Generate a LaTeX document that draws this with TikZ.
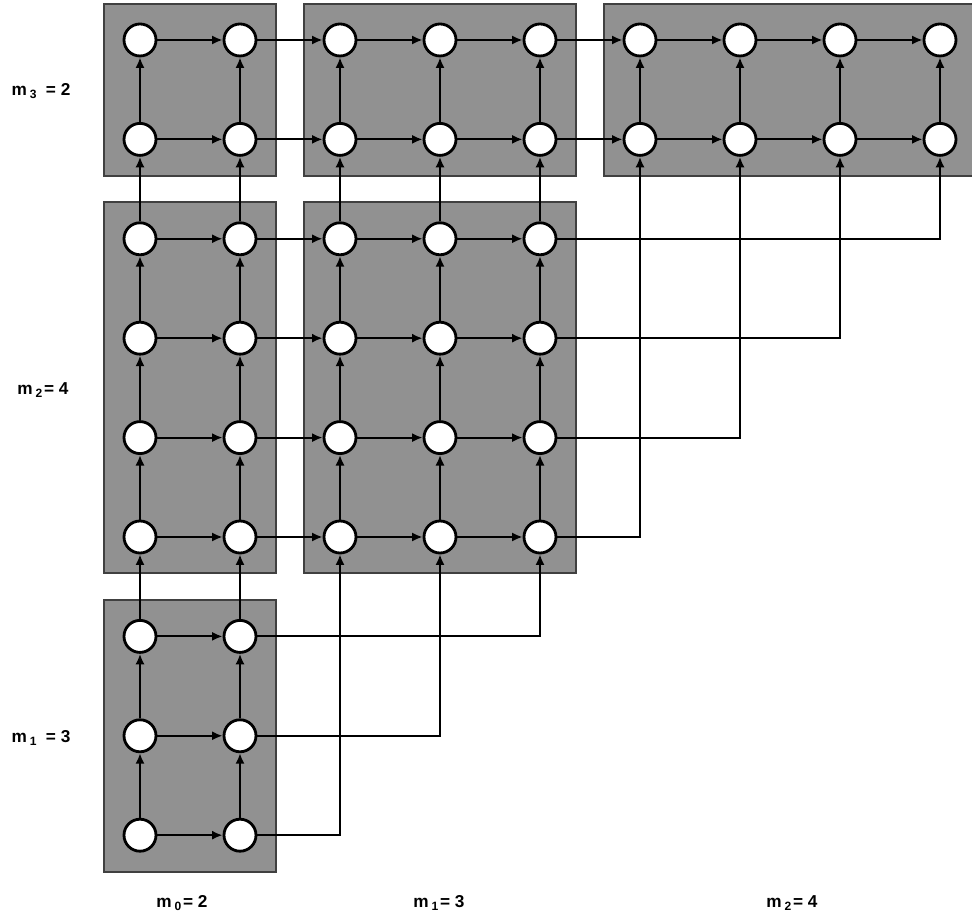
\documentclass[tikz,border=0pt]{standalone}
\usepackage{fontspec}
\setmainfont{Liberation Sans}
\usetikzlibrary{arrows.meta,fit,backgrounds}

\tikzset{
  knoten/.style={circle,draw,fill=white,line width=0.8pt,minimum size=3.2mm,inner sep=0pt},
  block/.style={fill=black!43,draw=black!75,line width=0.6pt,inner sep=1.9mm},
  pfeil/.style={line width=0.6pt,-{Latex[length=3pt,width=2.6pt]}},
  marke/.style={font=\fontsize{4.9}{5.5}\selectfont\bfseries}
}

\begin{document}
\begin{tikzpicture}[x=1cm,y=-1cm]
\useasboundingbox (0,0) rectangle (9.72,9.19);
% Knoten: oberste Zeilen (alle Spalten)
\foreach \r in {0,1} \foreach \c in {0,...,8}
  \node[knoten] (v-\c-\r) at (1.40+\c,0.40+0.994*\r) {};
% mittlere Zeilen
\foreach \r in {2,...,5} \foreach \c in {0,...,4}
  \node[knoten] (v-\c-\r) at (1.40+\c,0.40+0.994*\r) {};
% unterste Zeilen
\foreach \r in {6,7,8} \foreach \c in {0,1}
  \node[knoten] (v-\c-\r) at (1.40+\c,0.40+0.994*\r) {};

% graue Bloecke hinter den Knoten
\begin{scope}[on background layer]
  \node[block,fit=(v-0-0)(v-1-1)] (blk-a) {};
  \node[block,fit=(v-2-0)(v-4-1)] (blk-b) {};
  \node[block,fit=(v-5-0)(v-8-1)] (blk-c) {};
  \node[block,fit=(v-0-2)(v-1-5)] (blk-d) {};
  \node[block,fit=(v-2-2)(v-4-5)] (blk-e) {};
  \node[block,fit=(v-0-6)(v-1-8)] (blk-f) {};
\end{scope}

% waagerechte Pfeile
\foreach \r in {0,1} \foreach \c [count=\n from 1] in {0,...,7}
  \draw[pfeil] (v-\c-\r) -- (v-\n-\r);
\foreach \r in {2,...,5} \foreach \c [count=\n from 1] in {0,...,3}
  \draw[pfeil] (v-\c-\r) -- (v-\n-\r);
\foreach \r in {6,7,8}
  \draw[pfeil] (v-0-\r) -- (v-1-\r);

% senkrechte Pfeile (nach oben)
\foreach \c in {0,1} \foreach \r [count=\s from 1] in {0,...,7}
  \draw[pfeil] (v-\c-\s) -- (v-\c-\r);
\foreach \c in {2,3,4} \foreach \r [count=\s from 1] in {0,...,4}
  \draw[pfeil] (v-\c-\s) -- (v-\c-\r);
\foreach \c in {5,...,8}
  \draw[pfeil] (v-\c-1) -- (v-\c-0);

% Verbindungen zum naechsten Block: rechts, dann hoch
\foreach \r in {6,7,8} {
  \pgfmathtruncatemacro\z{10-\r}
  \draw[pfeil] (v-1-\r) -| (v-\z-5);
}
\foreach \r in {2,...,5} {
  \pgfmathtruncatemacro\z{10-\r}
  \draw[pfeil] (v-4-\r) -| (v-\z-1);
}

% Beschriftung
\node[marke] (lab-l3) at (0.41,0.91) {m\,\textsubscript{3} \,= 2};
\node[marke] (lab-l2) at (0.43,3.90) {m\,\textsubscript{2}= 4};
\node[marke] (lab-l1) at (0.41,7.38) {m\,\textsubscript{1} \,= 3};
\node[marke] (lab-u0) at (1.82,9.03) {m\,\textsubscript{0}= 2};
\node[marke] (lab-u1) at (4.39,9.03) {m\,\textsubscript{1}= 3};
\node[marke] (lab-u2) at (7.92,9.03) {m\,\textsubscript{2}= 4};
\end{tikzpicture}
\end{document}
